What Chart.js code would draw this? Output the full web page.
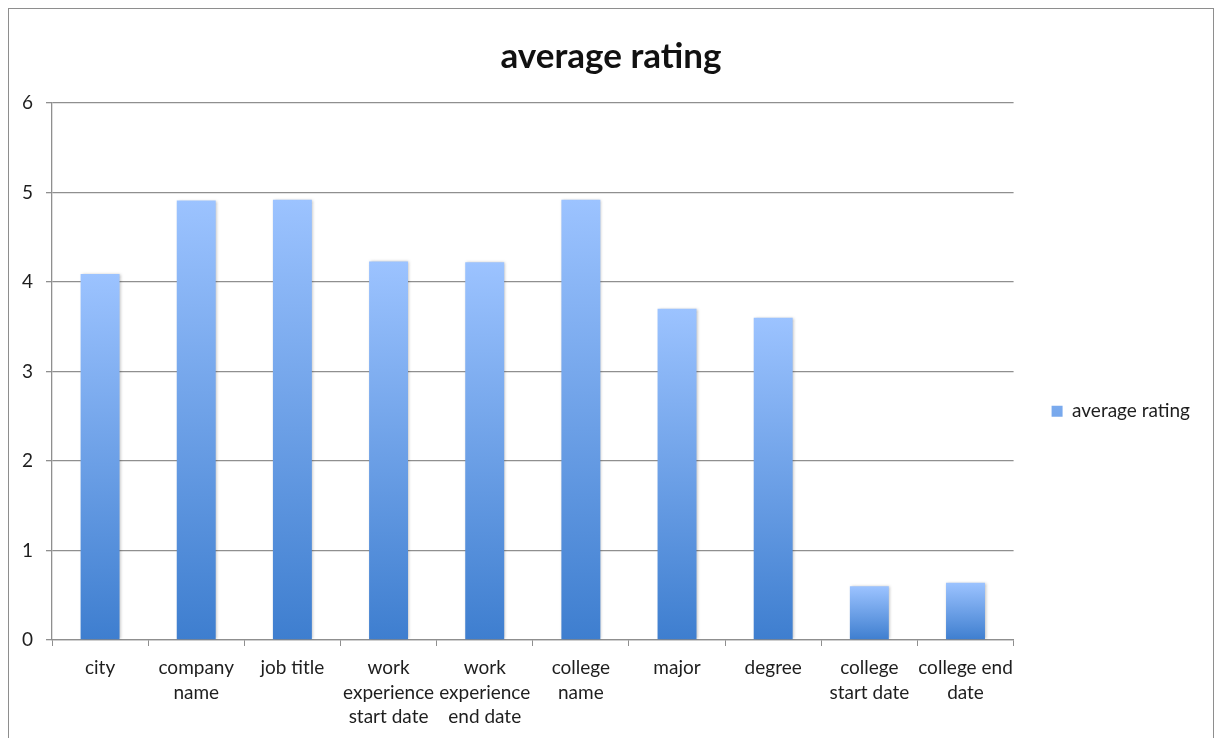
<!DOCTYPE html>
<html>
<head>
<meta charset="utf-8">
<script src="https://cdn.jsdelivr.net/npm/chart.js@4.4.1/dist/chart.umd.min.js"></script>
<style>
  html, body { margin: 0; padding: 0; background: #fff; }
  #wrap { position: relative; width: 1216px; height: 738px; overflow: hidden; }
  #frame { position: absolute; left: 8px; top: 8px; width: 1204px; height: 760px; border: 1px solid #8e8e8e; pointer-events: none; }
</style>
</head>
<body>
<div id="wrap">
  <canvas id="myChart" width="1216" height="738"></canvas>
  <div id="frame"></div>
</div>
<script>
const categories = [
    ['city'],
    ['company', 'name'],
    ['job title'],
    ['work', 'experience', 'start date'],
    ['work', 'experience', 'end date'],
    ['college', 'name'],
    ['major'],
    ['degree'],
    ['college', 'start date'],
    ['college end', 'date']
]
const ratings = [4.09, 4.91, 4.92, 4.23, 4.22, 4.92, 3.70, 3.60, 0.60, 0.64]
const yTicks = [0, 1, 2, 3, 4, 5, 6]

const fontFamily = 'Lato, "Open Sans", sans-serif'
const textColor = '#1e1e1e'
const lineColor = '#8f8f8f'

// light blue at the top of each bar, darker at the base
function barFill(context){
    const chart = context.chart
    if(context.type !== 'data' || !chart.chartArea){
        return '#5c94e0'
    }
    const y = chart.scales.y
    const top = y.getPixelForValue(context.raw)
    const bottom = y.getPixelForValue(0)
    const g = chart.ctx.createLinearGradient(0, top, 0, bottom)
    g.addColorStop(0, '#9cc3ff')
    g.addColorStop(1, '#3e7ecf')
    return g
}

// soft shadow around the bars
const barShadow = {
    id: 'barShadow',
    beforeDatasetsDraw(chart){
        const c = chart.ctx
        c.save()
        c.shadowColor = 'rgba(0, 0, 0, 0.28)'
        c.shadowBlur = 3
        c.shadowOffsetX = 1
        c.shadowOffsetY = 0
    },
    afterDatasetsDraw(chart){
        chart.ctx.restore()
    }
}

// title sits centred over the whole frame, not the space left of the legend
const titleNudge = {
    id: 'titleNudge',
    afterLayout(chart){
        chart.titleBlock.left += 7
        chart.titleBlock.right += 7
    }
}

const myChart = document.getElementById('myChart').getContext('2d')

const barChart = new Chart(myChart, {
    type: 'bar',
    data: {
        labels: categories,
        datasets: [{
            label: 'average rating',
            data: ratings,
            backgroundColor: barFill,
            borderWidth: 0,
            barPercentage: 0.405,
            categoryPercentage: 1
        }]
    },
    plugins: [barShadow, titleNudge],
    options: {
        responsive: false,
        animation: false,
        layout: {
            padding: { left: 8, right: 16, top: 0, bottom: 0 }
        },
        plugins: {
            title: {
                display: true,
                text: 'average rating',
                color: '#111',
                font: { family: fontFamily, size: 35, weight: 'bold' },
                padding: { top: 36, bottom: 25 }
            },
            legend: {
                position: 'right',
                align: 'center',
                title: {
                    display: true,
                    text: '',
                    padding: { top: 70, bottom: 0 }
                },
                labels: {
                    boxWidth: 11,
                    boxHeight: 11,
                    padding: 38,
                    color: textColor,
                    font: { family: fontFamily, size: 19 }
                }
            },
            tooltip: { enabled: false }
        },
        scales: {
            x: {
                grid: {
                    offset: true,
                    drawOnChartArea: false,
                    color: lineColor,
                    tickLength: 6
                },
                border: { color: lineColor, width: 1.3 },
                ticks: {
                    color: textColor,
                    font: { family: fontFamily, size: 19, lineHeight: 1.29 },
                    padding: 10,
                    maxRotation: 0,
                    autoSkip: false
                },
                afterFit: (scale) => { scale.height = 98 }
            },
            y: {
                min: yTicks[0],
                max: yTicks[yTicks.length - 1],
                afterBuildTicks: (scale) => { scale.ticks = yTicks.map(v => ({ value: v })) },
                grid: {
                    color: lineColor,
                    lineWidth: 1.3,
                    tickLength: 6
                },
                border: { color: lineColor, width: 1.3 },
                ticks: {
                    color: textColor,
                    font: { family: fontFamily, size: 19 },
                    padding: 13
                },
                afterFit: (scale) => { scale.width = 44 }
            }
        }
    }
})
</script>
</body>
</html>
